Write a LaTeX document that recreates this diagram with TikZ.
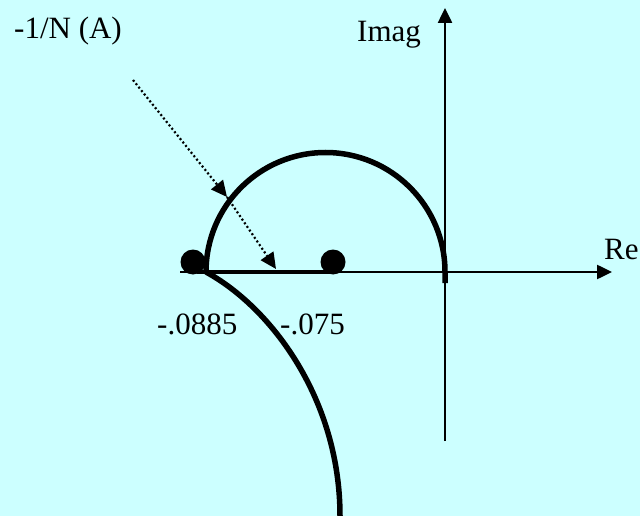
\documentclass[tikz,border=0pt]{standalone}
\usepackage{fontspec}
\setmainfont{Liberation Serif}
\usetikzlibrary{arrows.meta}
\definecolor{bgcyan}{RGB}{204,255,255}
\begin{document}
\begin{tikzpicture}[x=1bp,y=-1bp,
  axis/.style={line width=2.5bp,-{Triangle[length=15bp,width=14bp]}},
  thickcurve/.style={line width=5.5bp},
  dotarrow/.style={line width=2.2bp,dash pattern=on 2bp off 2.4bp,-{Triangle[length=16bp,width=15bp]}},
  blob/.style={circle,fill=black,inner sep=0pt,minimum size=25bp},
  lbl/.style={inner sep=0pt,anchor=base west,font=\fontsize{31bp}{36bp}\selectfont}]
\fill[bgcyan] (0,0) rectangle (640,516);
\useasboundingbox (0,0) rectangle (640,516);
% axes
\coordinate (xs) at (180,272);
\coordinate (xe) at (612,272);
\coordinate (ys) at (445,441);
\coordinate (ye) at (445,8);
\draw[axis] (xs) -- (xe);
\draw[axis] (ys) -- (ye);
% thick segment
\coordinate (sa) at (197,272);
\coordinate (sb) at (335,272);
\draw[line width=4.5bp] (sa) -- (sb);
% semicircle
\coordinate (al) at (206,272);
\coordinate (ar) at (445,283);
\draw[thickcurve] (al) arc[start angle=180,end angle=360,radius=119.5] -- (ar);
% lower curve
\coordinate (lb) at (340,516);
\draw[thickcurve] (al) .. controls (272,308) and (340,400) .. (lb);
% dots
\node[blob] (d1) at (193,262) {};
\node[blob] (d2) at (333,262) {};
% dotted arrows
\coordinate (p0) at (133,80);
\coordinate (p1) at (227,197);
\coordinate (p2) at (276,269);
\draw[dotarrow] (p0) -- (p1);
\draw[dotarrow] (p1) -- (p2);
% labels
\node[lbl] (tN) at (14,39) {-1/N (A)};
\node[lbl] (tI) at (357,42) {Imag};
\node[lbl] (tR) at (604,259) {Re};
\node[lbl] (t1) at (157,334) {-.0885};
\node[lbl] (t2) at (280,334) {-.075};
\end{tikzpicture}
\end{document}
